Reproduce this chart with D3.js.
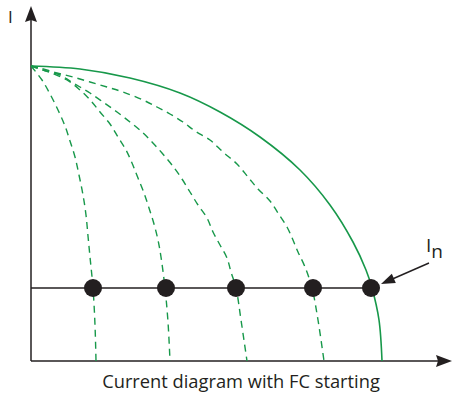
<!DOCTYPE html>
<html>
<head>
<meta charset="utf-8">
<script src="https://cdn.jsdelivr.net/npm/d3@7"></script>
<style>
  body { margin: 0; background: #fff; }
  text { font-family: "Open Sans", sans-serif; fill: #231f20; }
</style>
</head>
<body>
<div id="chart"></div>
<script>
// Curves: [x, I] in arbitrary units from the origin
const fullCurve = [[0,295],[49,292],[99,283],[149,268],[189,249],[229,224],[269,191],[299,156],[322,119],[335,91],[341,73],[348,41],[351,0]]
const dashCurve1 = [[0,295],[11,281],[19,267],[27,251],[34,235],[39,220],[44,204],[48,186],[52,166],[55,146],[57,125],[59,104],[62,73],[64,36],[65,0]]
const dashCurve2 = [[0,295],[12,291],[36,281],[49,271],[60,260],[69,249],[79,237],[87,224],[95,211],[101,198],[107,183],[113,168],[118,153],[123,137],[127,121],[130,104],[134,73],[137,39],[139,0]]
const dashCurve3 = [[0,295],[12,291],[29,286],[39,280],[49,274],[59,268],[72,259],[86,249],[99,239],[111,229],[121,219],[131,208],[141,196],[151,182],[159,169],[167,156],[176,143],[182,129],[189,116],[196,103],[200,89],[205,73],[210,41],[216,0]]
const dashCurve4 = [[0,295],[9,293],[26,288],[42,284],[59,279],[76,274],[92,269],[112,261],[126,254],[139,247],[152,239],[164,230],[179,221],[192,209],[206,197],[217,184],[227,172],[239,160],[247,148],[256,134],[262,121],[267,109],[274,94],[281,73],[287,41],[293,0]]
const dashCurves = [dashCurve1, dashCurve2, dashCurve3, dashCurve4]

// rated current line and the operating points on it
const ratedI = 73
const pointsX = [62, 135, 205, 282, 340]

const yLabel = 'I'
const caption = 'Current diagram with FC starting'

const width = 453,
      height = 394,
      green = '#17984a',
      ink = '#231f20'

const svg = d3.select('#chart')
  .append('svg')
  .attr('width', width)
  .attr('height', height)

const x = d3.scaleLinear().domain([0, 421]).range([31, 452])
const y = d3.scaleLinear().domain([0, 355]).range([361, 6])

const line = d3.line()
  .x(d => x(d[0]))
  .y(d => y(d[1]))
  .curve(d3.curveCatmullRom.alpha(0.5))

// axes with arrow heads
svg.append('line')
  .attr('x1', x(0)).attr('y1', y(0))
  .attr('x2', x(0)).attr('y2', y(355) + 12)
  .attr('stroke', ink).attr('stroke-width', 1.5)
svg.append('line')
  .attr('x1', x(0)).attr('y1', y(0))
  .attr('x2', x(421) - 12).attr('y2', y(0))
  .attr('stroke', ink).attr('stroke-width', 1.5)

let tipY = y(355)
svg.append('path')
  .attr('d', `M${x(0)},${tipY} L${x(0) + 6},${tipY + 16} L${x(0)},${tipY + 14} L${x(0) - 6},${tipY + 16} Z`)
  .attr('fill', ink)
let tipX = x(421)
svg.append('path')
  .attr('d', `M${tipX},${y(0)} L${tipX - 16},${y(0) - 6} L${tipX - 14},${y(0)} L${tipX - 16},${y(0) + 6} Z`)
  .attr('fill', ink)

// green curves
svg.append('path')
  .attr('d', line(fullCurve))
  .attr('fill', 'none')
  .attr('stroke', green)
  .attr('stroke-width', 1.6)

svg.selectAll('.dash')
  .data(dashCurves)
  .enter()
  .append('path')
  .attr('class', 'dash')
  .attr('d', d => line(d))
  .attr('fill', 'none')
  .attr('stroke', green)
  .attr('stroke-width', 1.4)
  .attr('stroke-dasharray', '7,5')

// rated current line
svg.append('line')
  .attr('x1', x(0)).attr('y1', y(ratedI))
  .attr('x2', x(d3.max(pointsX))).attr('y2', y(ratedI))
  .attr('stroke', ink).attr('stroke-width', 1.4)

svg.selectAll('.pt')
  .data(pointsX)
  .enter()
  .append('circle')
  .attr('class', 'pt')
  .attr('cx', d => x(d))
  .attr('cy', y(ratedI))
  .attr('r', 9)
  .attr('fill', ink)

// pointer to the last point
const px = x(d3.max(pointsX)) + 10, py = y(ratedI) - 4
const qx = 429, qy = 263
const ang = Math.atan2(qy - py, qx - px)
svg.append('line')
  .attr('x1', qx).attr('y1', qy)
  .attr('x2', px + Math.cos(ang) * 10).attr('y2', py + Math.sin(ang) * 10)
  .attr('stroke', ink).attr('stroke-width', 1.4)
const hl = 14, hw = 5
const bx = px + Math.cos(ang) * hl, by = py + Math.sin(ang) * hl
svg.append('path')
  .attr('d', `M${px},${py} L${bx - Math.sin(ang) * hw},${by + Math.cos(ang) * hw} L${bx + Math.sin(ang) * hw},${by - Math.cos(ang) * hw} Z`)
  .attr('fill', ink)

const lab = svg.append('text')
  .attr('x', 426).attr('y', 252)
  .style('font-size', '19px')
lab.append('tspan').text('I')
lab.append('tspan').attr('dy', 6).text('n')

// texts
svg.append('text')
  .attr('x', 8).attr('y', 23)
  .style('font-size', '17px')
  .text(yLabel)

svg.append('text')
  .attr('x', 241).attr('y', 388)
  .attr('text-anchor', 'middle')
  .style('font-size', '18.3px')
  .text(caption)
</script>
</body>
</html>
